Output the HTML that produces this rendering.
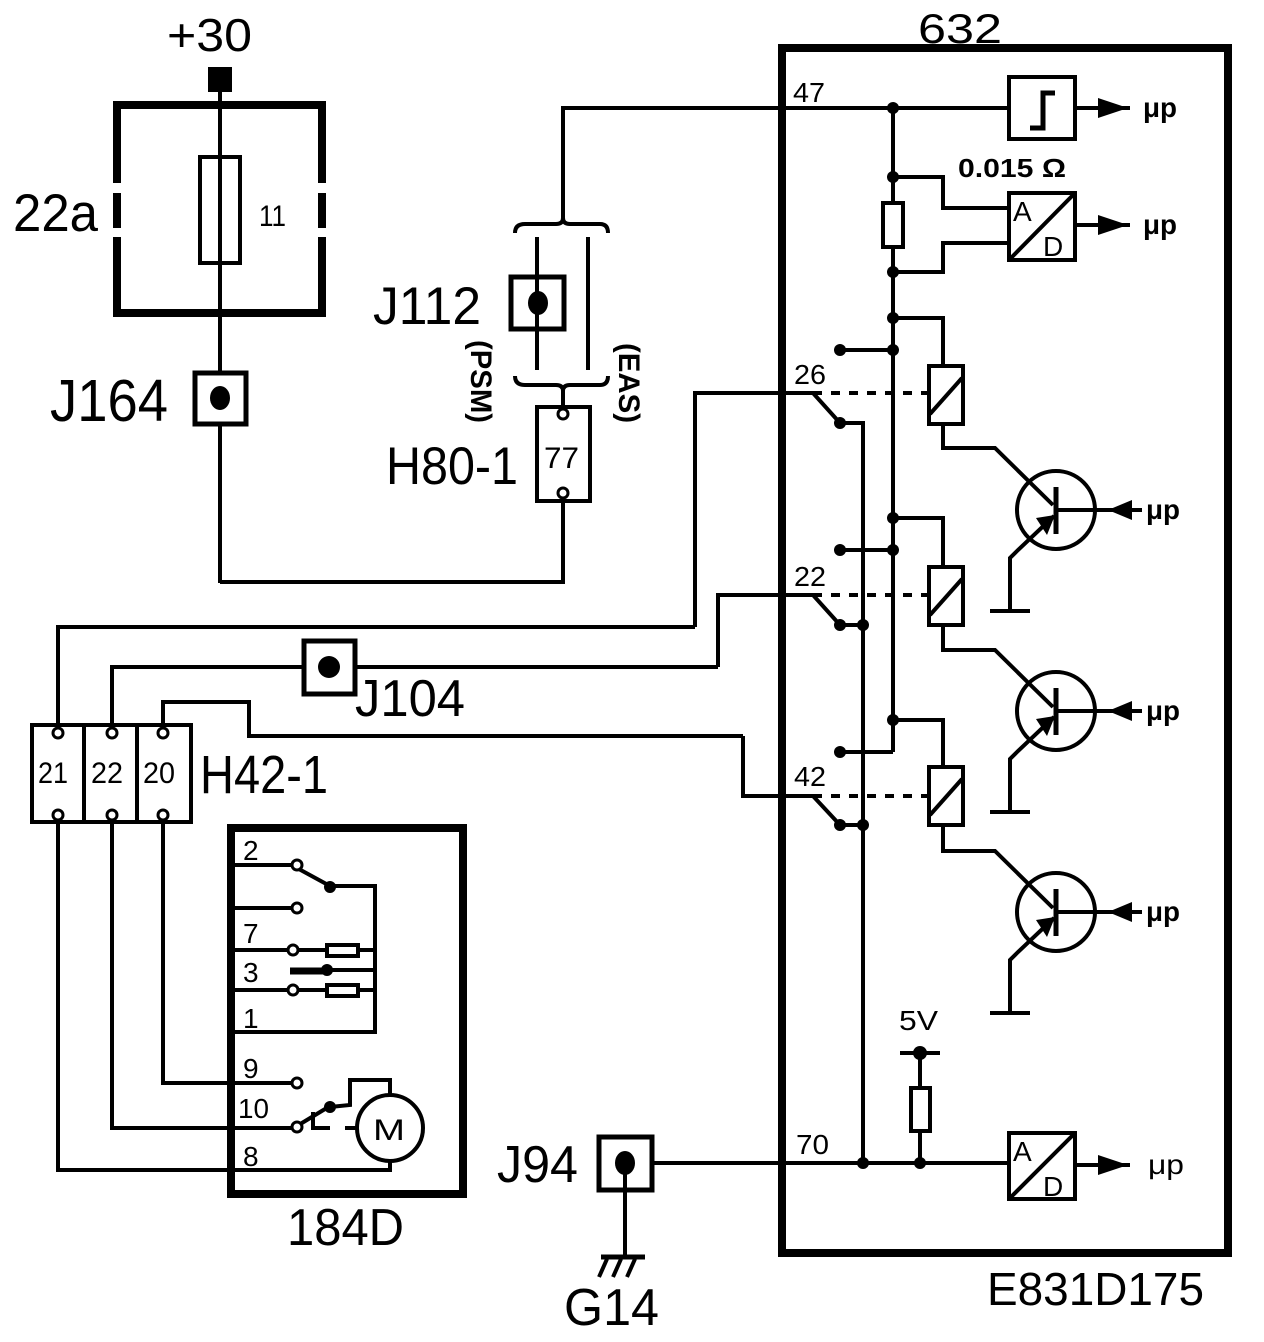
<!DOCTYPE html>
<html><head><meta charset="utf-8"><style>
html,body{margin:0;padding:0;background:#fff}
svg{display:block}
text{font-family:"Liberation Sans",Arial,sans-serif;fill:#000}
</style></head><body>
<svg width="1264" height="1342" viewBox="0 0 1264 1342" xmlns="http://www.w3.org/2000/svg">
<defs>
<g id="tr">
<circle cx="0" cy="0" r="39" fill="none" stroke="#000" stroke-width="4"/>
<line x1="0" y1="-23" x2="0" y2="24" stroke="#000" stroke-width="5"/>
<line x1="0" y1="0" x2="86" y2="0" stroke="#000" stroke-width="4"/>
<polygon points="52,0 76,-10 76,10" fill="#000"/>
<polyline points="-46,101 -46,48 -38,40 -2,6" fill="none" stroke="#000" stroke-width="4"/>
<polygon points="-1,5 -20,8 -9,25" fill="#000"/>
<line x1="-66" y1="101" x2="-26" y2="101" stroke="#000" stroke-width="4"/>
<text x="90" y="9" font-size="28" font-weight="bold" textLength="34" lengthAdjust="spacingAndGlyphs">μp</text>
</g>
<g id="relay">
<rect x="-16" y="0" width="34" height="58" fill="#fff" stroke="#000" stroke-width="4"/>
<line x1="-15" y1="48" x2="17" y2="12" stroke="#000" stroke-width="4"/>
</g>
</defs>
<g stroke="#000" stroke-width="4" fill="none">
<rect x="782" y="48" width="446" height="1205" stroke-width="8"/>
<path d="M117 183 V105 H322 V183 M117 193 V228 M322 193 V228 M117 237 V313 H322 V237" stroke-width="8"/>
<line x1="220" y1="88" x2="220" y2="583"/>
<rect x="200" y="157" width="40" height="106" fill="#fff"/>
<line x1="220" y1="157" x2="220" y2="263"/>
<polyline points="220,582 563,582 563,500"/>
<rect x="195" y="373" width="51" height="51" fill="#fff" stroke-width="5"/>
<polyline points="563,222 563,108 1009,108"/>
<line x1="588" y1="237" x2="588" y2="370"/>
<path d="M515 233 Q515 224 525 224 H556 Q563 224 563 218 Q563 224 570 224 H600 Q608 224 608 233"/>
<path d="M515 376 Q515 385 525 385 H556 Q563 385 563 391 Q563 385 570 385 H600 Q608 385 608 376"/>
<line x1="563" y1="391" x2="563" y2="410"/>
<rect x="511" y="277" width="53" height="52" fill="#fff" stroke-width="5"/>
<line x1="537" y1="237" x2="537" y2="370"/>
<rect x="537" y="407" width="53" height="94" fill="#fff"/>
<circle cx="563" cy="414" r="5" fill="#fff" stroke-width="3"/>
<circle cx="563" cy="493" r="5" fill="#fff" stroke-width="3"/>
<line x1="893" y1="108" x2="893" y2="752"/>
<rect x="1009" y="77" width="66" height="62"/>
<polyline points="1030,128 1043,128 1043,93 1055,93" stroke-width="5"/>
<line x1="1075" y1="108" x2="1130" y2="108"/>
<rect x="883" y="203" width="20" height="44" fill="#fff"/>
<polyline points="893,177 943,177 943,208 1009,208"/>
<polyline points="893,272 943,272 943,243 1009,243"/>
<rect x="1009" y="193" width="66" height="67"/>
<line x1="1009" y1="260" x2="1075" y2="193"/>
<line x1="1075" y1="225" x2="1130" y2="225"/>
<polyline points="893,318 943,318 943,366"/>
<polyline points="943,424 943,448 995,448 1053,505"/>
<line x1="840" y1="350" x2="893" y2="350"/>
<polyline points="695,627 695,393 813,393 840,423 863,423 863,1163"/>
<line x1="813" y1="393" x2="927" y2="393" stroke-dasharray="9,9"/>
<polyline points="893,518 943,518 943,567"/>
<polyline points="943,625 943,650 995,650 1053,707"/>
<line x1="840" y1="550" x2="893" y2="550"/>
<polyline points="718,667 718,595 813,595 840,625 863,625"/>
<line x1="813" y1="595" x2="927" y2="595" stroke-dasharray="9,9"/>
<polyline points="893,720 943,720 943,767"/>
<polyline points="943,825 943,851 995,851 1053,908"/>
<polyline points="840,752 893,752"/>
<polyline points="743,736 743,796 813,796 840,825 863,825"/>
<line x1="813" y1="796" x2="927" y2="796" stroke-dasharray="9,9"/>
<polyline points="58,730 58,627 695,627"/>
<polyline points="112,730 112,667 718,667"/>
<polyline points="163,730 163,702 249,702 249,736 743,736"/>
<rect x="304" y="641" width="51" height="53" fill="#fff" stroke-width="5"/>
<rect x="32" y="725" width="159" height="97" fill="#fff"/>
<line x1="84" y1="725" x2="84" y2="822"/>
<line x1="137" y1="725" x2="137" y2="822"/>
<polyline points="58,822 58,1170 390,1170 390,1161"/>
<polyline points="112,822 112,1128 297,1128"/>
<polyline points="163,822 163,1083 297,1083"/>
<rect x="231" y="828" width="232" height="366" stroke-width="8"/>
<polyline points="234,865 297,865"/>
<polyline points="297,868 330,886 375,886 375,1032 234,1032"/>
<line x1="234" y1="908" x2="297" y2="908"/>
<line x1="234" y1="950" x2="375" y2="950"/>
<line x1="234" y1="990" x2="375" y2="990"/>
<rect x="327" y="945" width="31" height="11" fill="#fff"/>
<rect x="327" y="985" width="31" height="11" fill="#fff"/>
<line x1="290" y1="971" x2="327" y2="971" stroke-width="7"/>
<line x1="327" y1="970" x2="375" y2="970"/>
<circle cx="390" cy="1128" r="33"/>
<polyline points="390,1095 390,1080 350,1080 350,1105 330,1107"/>
<line x1="297" y1="1126" x2="330" y2="1106"/>
<polyline points="313,1112 313,1128 330,1128"/>
<line x1="345" y1="1128" x2="357" y2="1128"/>
<line x1="651" y1="1163" x2="1009" y2="1163"/>
<line x1="625" y1="1163" x2="625" y2="1257"/>
<line x1="601" y1="1257" x2="645" y2="1257" stroke-width="5"/>
<path d="M607 1259 L599 1277 M621 1259 L613 1277 M635 1259 L627 1277"/>
<rect x="599" y="1137" width="53" height="53" fill="#fff" stroke-width="5"/>
<line x1="625" y1="1163" x2="625" y2="1190"/>
<line x1="900" y1="1053" x2="940" y2="1053"/>
<line x1="920" y1="1053" x2="920" y2="1163"/>
<rect x="911" y="1088" width="19" height="43" fill="#fff"/>
<rect x="1009" y="1133" width="66" height="66"/>
<line x1="1009" y1="1199" x2="1075" y2="1133"/>
<line x1="1075" y1="1165" x2="1130" y2="1165"/>
</g>
<g stroke="#000" fill="#fff" stroke-width="3">
<circle cx="297" cy="865" r="5"/>
<circle cx="297" cy="908" r="5"/>
<circle cx="293" cy="950" r="5"/>
<circle cx="293" cy="990" r="5"/>
<circle cx="297" cy="1083" r="5"/>
<circle cx="297" cy="1127" r="5"/>
<circle cx="58" cy="733" r="5"/>
<circle cx="112" cy="733" r="5"/>
<circle cx="163" cy="733" r="5"/>
<circle cx="58" cy="815" r="5"/>
<circle cx="112" cy="815" r="5"/>
<circle cx="163" cy="815" r="5"/>
</g>
<g fill="#000">
<rect x="208" y="67" width="24" height="25"/>
<ellipse cx="220" cy="398" rx="10" ry="12"/>
<ellipse cx="538" cy="303" rx="10" ry="12"/>
<circle cx="329" cy="667" r="11"/>
<ellipse cx="625" cy="1163" rx="10" ry="12"/>
<circle cx="893" cy="108" r="6"/>
<circle cx="893" cy="177" r="6"/>
<circle cx="893" cy="272" r="6"/>
<circle cx="893" cy="318" r="6"/>
<circle cx="893" cy="350" r="6"/>
<circle cx="840" cy="350" r="6"/>
<circle cx="840" cy="423" r="6"/>
<circle cx="893" cy="518" r="6"/>
<circle cx="893" cy="550" r="6"/>
<circle cx="840" cy="550" r="6"/>
<circle cx="840" cy="625" r="6"/>
<circle cx="863" cy="625" r="6"/>
<circle cx="893" cy="720" r="6"/>
<circle cx="840" cy="752" r="6"/>
<circle cx="840" cy="825" r="6"/>
<circle cx="863" cy="825" r="6"/>
<circle cx="863" cy="1163" r="6"/>
<circle cx="920" cy="1163" r="6"/>
<circle cx="920" cy="1053" r="7"/>
<circle cx="330" cy="887" r="6"/>
<circle cx="327" cy="970" r="6"/>
<circle cx="330" cy="1107" r="6"/>
<polygon points="1098,98 1098,118 1128,108"/>
<polygon points="1098,215 1098,235 1128,225"/>
<polygon points="1098,1155 1098,1175 1128,1165"/>
</g>
<use href="#relay" x="945" y="366"/>
<use href="#relay" x="945" y="567"/>
<use href="#relay" x="945" y="767"/>
<use href="#tr" x="1056" y="510"/>
<use href="#tr" x="1056" y="711"/>
<use href="#tr" x="1056" y="912"/>
<g lengthAdjust="spacingAndGlyphs">
<text x="1143" y="117" font-size="28" font-weight="bold" textLength="34" lengthAdjust="spacingAndGlyphs">μp</text>
<text x="1143" y="234" font-size="28" font-weight="bold" textLength="34" lengthAdjust="spacingAndGlyphs">μp</text>
<text x="1148" y="1174" font-size="28" textLength="36" lengthAdjust="spacingAndGlyphs">μp</text>
<text x="1013" y="221" font-size="28">A</text>
<text x="1043" y="256" font-size="28">D</text>
<text x="1013" y="1161" font-size="28">A</text>
<text x="1043" y="1196" font-size="28">D</text>
<text x="958" y="177" font-size="26" font-weight="bold" textLength="108" lengthAdjust="spacingAndGlyphs">0.015 Ω</text>
<text x="899" y="1030" font-size="28" textLength="39" lengthAdjust="spacingAndGlyphs">5V</text>
<text x="793" y="102" font-size="28" textLength="32" lengthAdjust="spacingAndGlyphs">47</text>
<text x="794" y="384" font-size="28" textLength="32" lengthAdjust="spacingAndGlyphs">26</text>
<text x="794" y="586" font-size="28" textLength="32" lengthAdjust="spacingAndGlyphs">22</text>
<text x="794" y="786" font-size="28" textLength="32" lengthAdjust="spacingAndGlyphs">42</text>
<text x="796" y="1154" font-size="28" textLength="33" lengthAdjust="spacingAndGlyphs">70</text>
<text x="918" y="43" font-size="42" textLength="84" lengthAdjust="spacingAndGlyphs">632</text>
<text x="167" y="51" font-size="46" textLength="85" lengthAdjust="spacingAndGlyphs">+30</text>
<text x="13" y="231" font-size="53" textLength="85" lengthAdjust="spacingAndGlyphs">22a</text>
<text x="259" y="226" font-size="30" textLength="27" lengthAdjust="spacingAndGlyphs">11</text>
<text x="50" y="421" font-size="59" textLength="118" lengthAdjust="spacingAndGlyphs">J164</text>
<text x="373" y="324" font-size="53" textLength="108" lengthAdjust="spacingAndGlyphs">J112</text>
<text x="386" y="484" font-size="53" textLength="132" lengthAdjust="spacingAndGlyphs">H80-1</text>
<text x="544" y="468" font-size="30" textLength="35" lengthAdjust="spacingAndGlyphs">77</text>
<text x="0" y="0" font-size="30" font-weight="bold" textLength="83" lengthAdjust="spacingAndGlyphs" transform="translate(471,340) rotate(90)">(PSM)</text>
<text x="0" y="0" font-size="30" font-weight="bold" textLength="80" lengthAdjust="spacingAndGlyphs" transform="translate(619,343) rotate(90)">(EAS)</text>
<text x="355" y="716" font-size="52" textLength="110" lengthAdjust="spacingAndGlyphs">J104</text>
<text x="200" y="793" font-size="54" textLength="128" lengthAdjust="spacingAndGlyphs">H42-1</text>
<text x="38" y="783" font-size="30" textLength="30" lengthAdjust="spacingAndGlyphs">21</text>
<text x="91" y="783" font-size="30" textLength="32" lengthAdjust="spacingAndGlyphs">22</text>
<text x="143" y="783" font-size="30" textLength="32" lengthAdjust="spacingAndGlyphs">20</text>
<text x="243" y="860" font-size="28">2</text>
<text x="243" y="943" font-size="28">7</text>
<text x="243" y="982" font-size="28">3</text>
<text x="243" y="1028" font-size="28">1</text>
<text x="243" y="1078" font-size="28">9</text>
<text x="238" y="1118" font-size="28" textLength="31" lengthAdjust="spacingAndGlyphs">10</text>
<text x="243" y="1166" font-size="28">8</text>
<text x="373" y="1140" font-size="30" textLength="32" lengthAdjust="spacingAndGlyphs">M</text>
<text x="287" y="1245" font-size="52" textLength="117" lengthAdjust="spacingAndGlyphs">184D</text>
<text x="497" y="1182" font-size="52" textLength="81" lengthAdjust="spacingAndGlyphs">J94</text>
<text x="564" y="1325" font-size="52" textLength="95" lengthAdjust="spacingAndGlyphs">G14</text>
<text x="987" y="1305" font-size="46" textLength="217" lengthAdjust="spacingAndGlyphs">E831D175</text>
</g>
</svg>
</body></html>
